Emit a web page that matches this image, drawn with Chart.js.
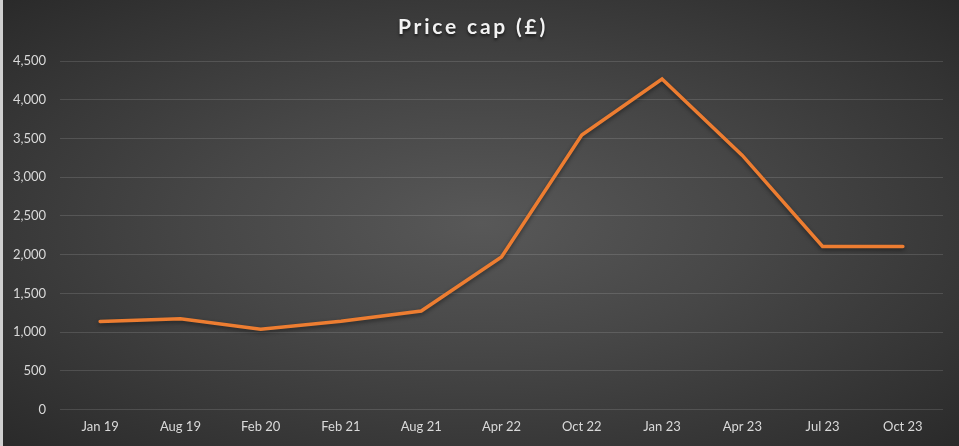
<!DOCTYPE html>
<html>
<head>
<meta charset="utf-8">
<script src="https://cdn.jsdelivr.net/npm/chart.js@4"></script>
<style>
    html, body { margin: 0; padding: 0; background: #2a2a2a; }
    #wrap {
        width: 956px;
        height: 446px;
        border-left: 3px solid #cfcfcf;
        background: radial-gradient(ellipse at 50% 50%, #585858 0%, #474747 40%, #2a2a2a 100%);
    }
</style>
</head>
<body>
<div id="wrap"><canvas id="myChart"></canvas></div>
<script>
const labels = ['Jan 19', 'Aug 19', 'Feb 20', 'Feb 21', 'Aug 21', 'Apr 22', 'Oct 22', 'Jan 23', 'Apr 23', 'Jul 23', 'Oct 23'];
const priceCap = [1137, 1170, 1035, 1140, 1272, 1971, 3545, 4270, 3282, 2105, 2105];

// soft shadow under the line, like the spreadsheet original
const lineShadow = {
    id: 'lineShadow',
    beforeDatasetsDraw(chart) {
        const ctx = chart.ctx;
        ctx.save();
        ctx.shadowColor = 'rgba(0,0,0,0.45)';
        ctx.shadowBlur = 4;
        ctx.shadowOffsetY = 2;
    },
    afterDatasetsDraw(chart) {
        chart.ctx.restore();
    }
};

const chart = new Chart('myChart', {
    type: 'line',
    data: {
        labels: labels,
        datasets: [{
            label: 'Price cap (£)',
            data: priceCap,
            borderColor: '#ED7D31',
            borderWidth: 3.5,
            lineTension: 0,
            pointRadius: 0,
            fill: false,
            borderCapStyle: 'round',
            borderJoinStyle: 'miter'
        }]
    },
    options: {
        responsive: true,
        maintainAspectRatio: false,
        animation: false,
        layout: { padding: { left: 0, right: 16, top: 0, bottom: 1 } },
        plugins: {
            legend: { display: false },
            tooltip: { enabled: false },
            title: {
                display: true,
                text: 'Price cap (£)',
                color: '#f2f2f2',
                font: { family: 'Lato', size: 21, weight: 'bold' },
                padding: { top: 15, bottom: 21 }
            }
        },
        scales: {
            x: {
                offset: true,
                grid: { display: false, drawTicks: false },
                border: { display: false },
                ticks: {
                    color: '#d9d9d9',
                    font: { family: 'Lato', size: 13 },
                    padding: 10,
                    maxRotation: 0
                }
            },
            y: {
                min: 0,
                max: 4500,
                grid: { color: 'rgba(255,255,255,0.13)', drawTicks: false },
                border: { display: false },
                afterFit: function (axis) {
                    axis.width = 57;
                },
                ticks: {
                    stepSize: 500,
                    color: '#d9d9d9',
                    font: { family: 'Lato', size: 13 },
                    padding: 14,
                    callback: function (value) {
                        return value.toLocaleString('en-GB');
                    }
                }
            }
        }
    },
    plugins: [lineShadow]
});

// spaced-out title with a drop shadow
const drawTitle = chart.titleBlock.draw.bind(chart.titleBlock);
chart.titleBlock.draw = function () {
    const ctx = chart.ctx;
    ctx.save();
    ctx.letterSpacing = '2.8px';
    ctx.shadowColor = 'rgba(0,0,0,0.6)';
    ctx.shadowBlur = 3;
    ctx.shadowOffsetY = 2;
    drawTitle();
    ctx.restore();
};
chart.update();
</script>
</body>
</html>
